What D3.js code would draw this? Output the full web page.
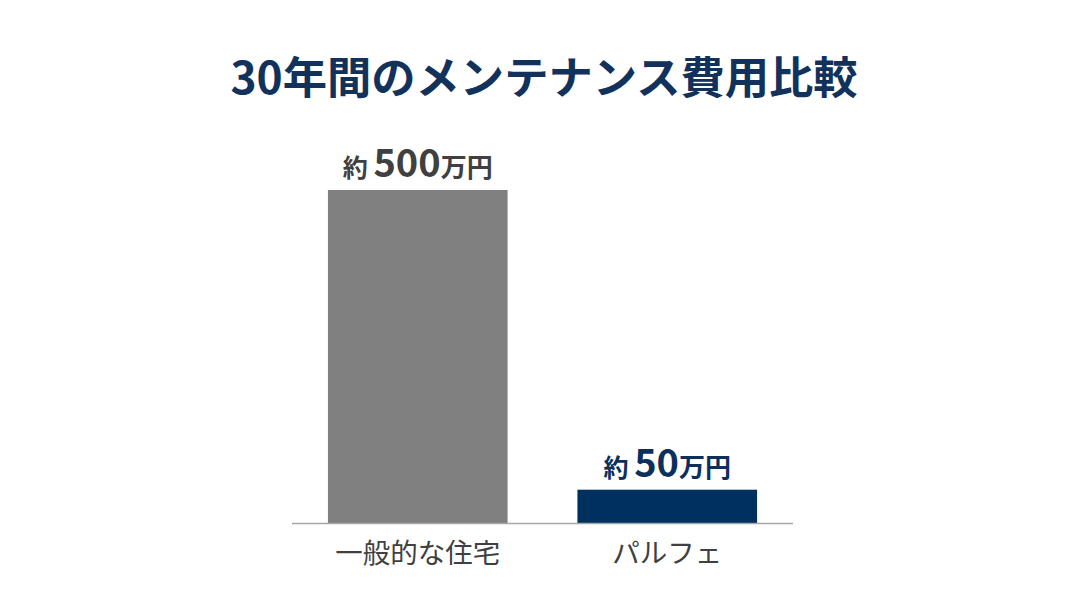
<!DOCTYPE html>
<html><head><meta charset="utf-8">
<script src="https://cdn.jsdelivr.net/npm/d3@7"></script>
<style>body{margin:0;background:#fff}</style>
</head><body>
<svg id="c" width="1088" height="612"></svg>
<script>
const categories = ["一般的な住宅", "パルフェ"];
const values = [500, 50];
const valueLabels = ["500", "50"];
const title = "30年間のメンテナンス費用比較";
const barColors = ["#808080", "#00305e"];
const labelColors = ["#404040", "#0d2f5c"];

const svg = d3.select("#c");
const font = "'Noto Sans CJK JP', 'Noto Sans', sans-serif";

const x = d3.scaleBand().domain(categories).range([292, 793]).paddingInner(0.28).paddingOuter(0.144);
const y = d3.scaleLinear().domain([0, 500]).range([523, 190]);

svg.append("text").attr("x", 544).attr("y", 94).attr("text-anchor", "middle")
  .attr("font-family", font).attr("font-weight", 700).attr("font-size", 44.3)
  .attr("fill", "#12325c").text(title);

svg.selectAll("rect.bar").data(values).enter().append("rect")
  .attr("x", (d, i) => x(categories[i])).attr("width", x.bandwidth())
  .attr("y", d => y(d)).attr("height", d => y(0) - y(d))
  .attr("fill", (d, i) => barColors[i]);

svg.append("line").attr("x1", 292).attr("x2", 793).attr("y1", 523.5).attr("y2", 523.5)
  .attr("stroke", "#a6a6a6").attr("stroke-width", 1.5);

const lbl = svg.selectAll("text.val").data(values).enter().append("text")
  .attr("x", (d, i) => x(categories[i]) + x.bandwidth() / 2)
  .attr("y", d => y(d) - 13)
  .attr("text-anchor", "middle").attr("font-family", font).attr("font-weight", 700)
  .attr("fill", (d, i) => labelColors[i]);
lbl.append("tspan").attr("font-size", 25).text("約 ");
lbl.append("tspan").attr("font-size", 38).text((d, i) => valueLabels[i]);
lbl.append("tspan").attr("font-size", 26).text("万円");

svg.selectAll("text.cat").data(categories).enter().append("text")
  .attr("x", d => x(d) + x.bandwidth() / 2).attr("y", 563)
  .attr("text-anchor", "middle").attr("font-family", font).attr("font-size", 27.5)
  .attr("fill", "#404040").text(d => d);
</script>
</body></html>
